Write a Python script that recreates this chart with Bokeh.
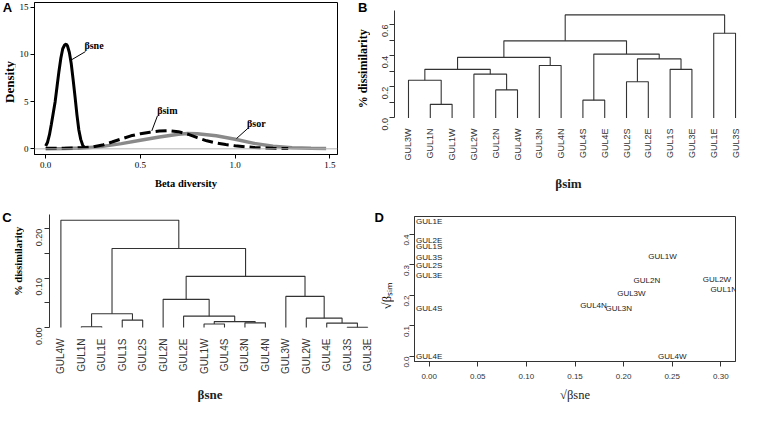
import math
from bokeh.plotting import figure
from bokeh.layouts import column, row
from bokeh.models import FixedTicker, Span
from bokeh.core.properties import value
from bokeh.embed import file_html
from bokeh.resources import INLINE

SERIF = "Liberation Serif"
SANS = "Liberation Sans"

# ---------------- Panel A: density curves ----------------
sne_x = [0.000, 0.010, 0.020, 0.030, 0.040, 0.050, 0.060, 0.070, 0.080, 0.090, 0.100,
         0.108, 0.115, 0.125, 0.135, 0.145, 0.155, 0.165, 0.175, 0.185, 0.195, 0.205]
sne_y = [0.3, 0.7, 1.5, 2.6, 3.8, 5.0, 6.6, 8.2, 9.6, 10.6, 11.0,
         11.1, 10.9, 10.2, 9.0, 7.3, 5.5, 3.6, 2.0, 1.0, 0.4, 0.1]
sim_x = [0.00, 0.10, 0.20, 0.25, 0.30, 0.35, 0.40, 0.45, 0.50, 0.55, 0.60, 0.65,
         0.70, 0.75, 0.80, 0.85, 0.90, 0.95, 1.00, 1.10, 1.20, 1.28]
sim_y = [0.05, 0.07, 0.13, 0.22, 0.40, 0.72, 1.05, 1.38, 1.60, 1.76, 1.88, 1.93,
         1.82, 1.55, 1.18, 0.85, 0.62, 0.45, 0.32, 0.14, 0.05, 0.03]
sor_x = [0.00, 0.10, 0.20, 0.30, 0.40, 0.50, 0.60, 0.70, 0.75, 0.80, 0.90, 1.00,
         1.10, 1.20, 1.30, 1.40, 1.48]
sor_y = [0.02, 0.04, 0.10, 0.26, 0.55, 0.90, 1.25, 1.55, 1.62, 1.60, 1.38, 1.02,
         0.58, 0.28, 0.11, 0.05, 0.04]
a_xticks = [0.0, 0.5, 1.0, 1.5]
a_xlabels = ["0.0", "0.5", "1.0", "1.5"]
a_yticks = [0, 5, 10, 15]
# curve annotations: text, label position, leader line
ann_text = ["βsne", "βsim", "βsor"]
ann_x = [0.255, 0.642, 1.112]
ann_y = [10.9, 4.1, 2.65]
lead_x0 = [0.21, 0.59, 1.067]
lead_y0 = [10.3, 3.5, 2.17]
lead_x1 = [0.134, 0.56, 1.007]
lead_y1 = [9.4, 1.9, 1.09]

# ---------------- Panel B: dendrogram of beta-sim ----------------
b_leaves = ["GUL3W", "GUL1N", "GUL1W", "GUL2W", "GUL2N", "GUL4W", "GUL3N", "GUL4N",
            "GUL4S", "GUL4E", "GUL2S", "GUL2E", "GUL1S", "GUL3E", "GUL1E", "GUL3S"]
# merges: (left, right, height); strings are leaves, ints are earlier merges (1-based)
b_merges = [
    ("GUL1N", "GUL1W", 0.087),
    ("GUL4S", "GUL4E", 0.114),
    ("GUL2N", "GUL4W", 0.180),
    ("GUL2S", "GUL2E", 0.232),
    ("GUL3W", 1, 0.242),
    ("GUL2W", 3, 0.281),
    (5, 6, 0.312),
    ("GUL1S", "GUL3E", 0.312),
    ("GUL3N", "GUL4N", 0.337),
    (4, 8, 0.379),
    (7, 9, 0.389),
    (2, 10, 0.410),
    (11, 12, 0.495),
    ("GUL1E", "GUL3S", 0.544),
    (13, 14, 0.662),
]
b_yticks = [0.0, 0.1, 0.2, 0.3, 0.4, 0.5, 0.6]
b_ylabels = ["0.0", "", "0.2", "", "0.4", "", "0.6"]

# ---------------- Panel C: dendrogram of beta-sne ----------------
c_leaves = ["GUL4W", "GUL1N", "GUL1E", "GUL1S", "GUL2S", "GUL2N", "GUL2E", "GUL1W",
            "GUL4S", "GUL3N", "GUL4N", "GUL3W", "GUL2W", "GUL4E", "GUL3S", "GUL3E"]
c_merges = [
    ("GUL3S", "GUL3E", 0.0005),
    ("GUL1N", "GUL1E", 0.0015),
    ("GUL1W", "GUL4S", 0.007),
    ("GUL4E", 1, 0.009),
    ("GUL3N", "GUL4N", 0.0095),
    (3, 5, 0.012),
    ("GUL1S", "GUL2S", 0.015),
    ("GUL2W", 4, 0.019),
    ("GUL2E", 6, 0.023),
    (2, 7, 0.028),
    ("GUL2N", 9, 0.057),
    ("GUL3W", 8, 0.063),
    (11, 12, 0.1035),
    (10, 13, 0.160),
    ("GUL4W", 14, 0.217),
]
c_yticks = [0.00, 0.05, 0.10, 0.15, 0.20]
c_ylabels = ["0.00", "", "0.10", "", "0.20"]

# ---------------- Panel D: sqrt(beta-sne) vs sqrt(beta-sim) ----------------
d_names = ["GUL1E", "GUL2E", "GUL1S", "GUL3S", "GUL2S", "GUL3E", "GUL4S", "GUL4E",
           "GUL1W", "GUL2N", "GUL3W", "GUL4N", "GUL3N", "GUL2W", "GUL1N", "GUL4W"]
d_sne = [0.000, 0.000, 0.000, 0.000, 0.000, 0.000, 0.000, 0.000,
         0.240, 0.224, 0.208, 0.169, 0.195, 0.296, 0.303, 0.250]
d_sim = [0.442, 0.379, 0.362, 0.326, 0.298, 0.265, 0.158, 0.000,
         0.328, 0.250, 0.207, 0.166, 0.158, 0.252, 0.221, 0.000]
d_xticks = [0.00, 0.05, 0.10, 0.15, 0.20, 0.25, 0.30]
d_xlabels = ["0.00", "0.05", "0.10", "0.15", "0.20", "0.25", "0.30"]
d_yticks = [0.0, 0.1, 0.2, 0.3, 0.4]
d_ylabels = ["0.0", "0.1", "0.2", "0.3", "0.4"]


def no_align(p):
    if "frame_align" in p.properties():
        p.frame_align = False


def base_fig(**kw):
    p = figure(output_backend="svg", toolbar_location=None, **kw)
    no_align(p)
    p.xgrid.visible = False
    p.ygrid.visible = False
    p.background_fill_color = "white"
    p.border_fill_color = "white"
    for ax in (p.xaxis[0], p.yaxis[0]):
        ax.minor_tick_line_color = None
        ax.major_tick_in = 0
        ax.major_tick_out = 5
        ax.axis_label_text_font_style = "bold"
    return p


def text_strip(width, height, items):
    """Narrow strip holding panel letters and rotated axis titles.
    items: (text, x_px, y_px_from_top, rotated, size, font, style)"""
    p = figure(width=width, height=height, x_range=(0, width), y_range=(0, height),
               output_backend="svg", toolbar_location=None, min_border=0,
               x_axis_location=None, y_axis_location=None)
    no_align(p)
    p.grid.visible = False
    p.outline_line_color = None
    p.background_fill_color = "white"
    p.border_fill_color = "white"
    for txt, x, y, rot, size, font, style in items:
        p.text([x], [height - y], text=[txt], angle=math.pi / 2 if rot else 0,
               text_font=value(font), text_font_size=size, text_font_style=style,
               text_align="center", text_baseline="middle", text_color="black")
    return p


def dendro_lines(leaves, merges):
    pos = {n: i + 1 for i, n in enumerate(leaves)}
    nodes = []
    xs, ys = [], []

    def get(ref):
        if isinstance(ref, str):
            return pos[ref], 0.0
        return nodes[ref - 1]

    for a, b, h in merges:
        xa, ha = get(a)
        xb, hb = get(b)
        xs.append([xa, xa, xb, xb])
        ys.append([ha, h, h, hb])
        nodes.append(((xa + xb) / 2.0, h))
    return xs, ys


# ---------------- build A ----------------
pA = base_fig(width=336, height=200, x_range=(-0.059, 1.54), y_range=(-0.6, 15.5),
              min_border_left=15, min_border_right=15, min_border_top=2, min_border_bottom=46)
pA.outline_line_color = "black"
pA.outline_line_width = 1
pA.add_layout(Span(location=0, dimension="width", line_color="#b0b0b0", line_width=1))
pA.line(sor_x, sor_y, line_color="#8a8a8a", line_width=3.5)
pA.line(sim_x, sim_y, line_color="black", line_width=3, line_dash="11 5")
pA.line(sne_x, sne_y, line_color="black", line_width=3)
pA.segment(lead_x0, lead_y0, lead_x1, lead_y1, line_color="black", line_width=1)
pA.text(ann_x, ann_y, text=ann_text, text_font=value(SERIF), text_font_style="bold",
        text_font_size="10px", text_align="center", text_baseline="middle", text_color="black")
xa = pA.xaxis[0]
xa.ticker = FixedTicker(ticks=a_xticks)
xa.major_label_overrides = {t: l for t, l in zip(a_xticks, a_xlabels)}
xa.axis_label = "Beta diversity"
ya = pA.yaxis[0]
ya.ticker = FixedTicker(ticks=a_yticks)
for ax in (xa, ya):
    ax.major_label_text_font = SERIF
    ax.major_label_text_font_size = "9px"
    ax.major_label_text_color = "black"
    ax.axis_label_text_font = SERIF
    ax.axis_label_text_font_size = "10.5px"
    ax.axis_label_text_color = "black"
    ax.major_tick_out = 4
xa.major_label_standoff = 3
xa.axis_label_standoff = 7
ya.major_label_standoff = 2

sA = text_strip(16, 200, [("A", 6.9, 6.7, False, "13px", SANS, "bold"),
                          ("Density", 8.8, 81.5, True, "13px", SERIF, "bold")])


def dendro_fig(leaves, merges, width, height, xr, yr, borders, yticks, ylabels, ybounds,
               xtitle, leaf_size, label_standoff, xtitle_standoff, ylab_standoff):
    bl, br, bt, bb = borders
    p = base_fig(width=width, height=height, x_range=xr, y_range=yr,
                 min_border_left=bl, min_border_right=br, min_border_top=bt, min_border_bottom=bb)
    p.outline_line_color = None
    xs, ys = dendro_lines(leaves, merges)
    p.multi_line(xs, ys, line_color="#333333", line_width=1.1)
    xa = p.xaxis[0]
    xa.ticker = FixedTicker(ticks=list(range(1, len(leaves) + 1)))
    xa.major_label_overrides = {i + 1: n for i, n in enumerate(leaves)}
    xa.major_label_orientation = math.pi / 2
    xa.axis_line_color = None
    xa.major_tick_line_color = None
    xa.major_label_text_font = SANS
    xa.major_label_text_font_size = leaf_size
    xa.major_label_text_color = "#333333"
    xa.major_label_standoff = label_standoff
    xa.axis_label = xtitle
    xa.axis_label_text_font = SERIF
    xa.axis_label_text_font_size = "13px"
    xa.axis_label_text_color = "#222222"
    xa.axis_label_standoff = xtitle_standoff
    ya = p.yaxis[0]
    ya.ticker = FixedTicker(ticks=yticks)
    ya.major_label_overrides = {t: l for t, l in zip(yticks, ylabels)}
    ya.major_label_orientation = math.pi / 2
    ya.bounds = ybounds
    ya.axis_line_color = "#333333"
    ya.major_tick_line_color = "#333333"
    ya.major_label_text_font = SANS
    ya.major_label_text_font_size = "9px"
    ya.major_label_text_color = "#333333"
    ya.major_label_standoff = ylab_standoff
    return p


sB = text_strip(18, 200, [("B", 10.2, 6.7, False, "13px", SANS, "bold"),
                          ("% dissimilarity", 10.2, 68.3, True, "12px", SERIF, "bold")])
pB = dendro_fig(b_leaves, b_merges, 372, 200, (0.358, 16.32), (-0.0167, 0.703),
                (24, 0, 8, 80), b_yticks, b_ylabels, (0, 0.69), "βsim",
                "9px", 3, 12, 4)

sC = text_strip(24, 205, [("C", 6.5, 16.5, False, "13px", SANS, "bold"),
                          ("% dissimilarity", 17.6, 60.7, True, "10.5px", SERIF, "bold")])
pC = dendro_fig(c_leaves, c_merges, 348, 205, (0.443, 16.14), (-0.006, 0.2327),
                (25, 2, 12, 74), c_yticks, c_ylabels, (0, 0.228), "βsne",
                "10px", 3, 10, 5)

# ---------------- build D ----------------
sD = text_strip(22, 205, [("D", 6.6, 16.5, False, "13px", SANS, "bold"),
                          ("√βₛᵢₘ", 14.7, 95.0, True, "12.5px", SERIF, "normal")])
pD = base_fig(width=348, height=205, x_range=(-0.0151, 0.3151), y_range=(-0.0164, 0.459),
              min_border_left=20, min_border_right=7, min_border_top=16, min_border_bottom=44)
pD.outline_line_color = "#333333"
pD.outline_line_width = 1
pD.text(d_sne, d_sim, text=d_names, text_font=value(SANS), text_font_size="8px",
        text_align="center", text_baseline="middle", text_color="#222222")
xa = pD.xaxis[0]
xa.ticker = FixedTicker(ticks=d_xticks)
xa.major_label_overrides = {t: l for t, l in zip(d_xticks, d_xlabels)}
xa.axis_label = "√βsne"
xa.major_label_standoff = 7
xa.axis_label_standoff = 6
ya = pD.yaxis[0]
ya.ticker = FixedTicker(ticks=d_yticks)
ya.major_label_overrides = {t: l for t, l in zip(d_yticks, d_ylabels)}
ya.major_label_orientation = math.pi / 2
ya.major_label_standoff = 3
for ax in (xa, ya):
    ax.axis_line_color = "#333333"
    ax.major_tick_line_color = "#333333"
    ax.major_label_text_font = SANS
    ax.major_label_text_font_size = "8px"
    ax.major_label_text_color = "#333333"
    ax.axis_label_text_font = SERIF
    ax.axis_label_text_font_size = "12.5px"
    ax.axis_label_text_font_style = "normal"
    ax.axis_label_text_color = "#222222"

layout = column(row(sA, pA, sB, pB), row(sC, pC, sD, pD))
open("out.html", "w").write(file_html(layout, INLINE))
